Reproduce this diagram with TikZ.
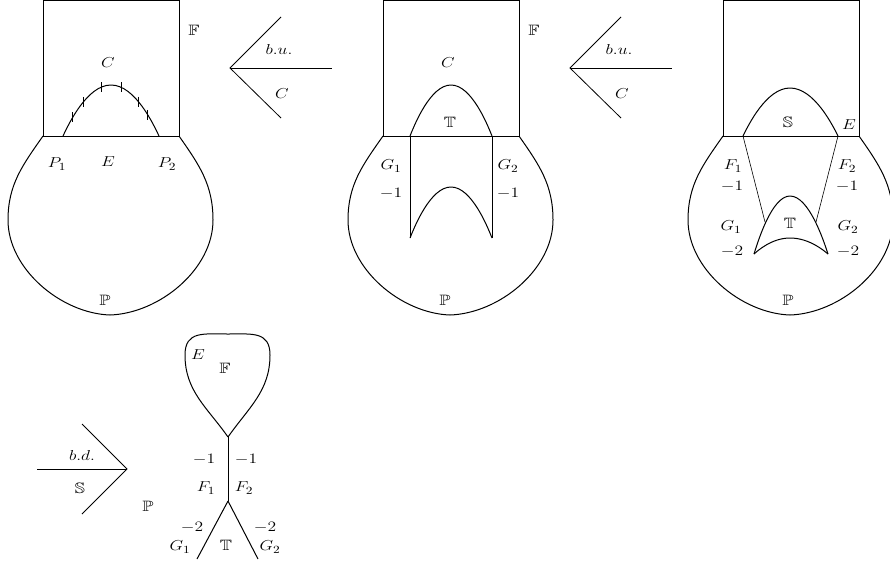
\documentclass[tikz,border=0pt]{standalone}
\usepackage{amssymb}
\usepackage{graphicx}
\newcommand{\mlab}[1]{\scalebox{1.22}[1]{$#1$}}
\tikzset{
  sq/.style={line width=0.6pt},
  crv/.style={line width=1pt},
  arr/.style={line width=0.8pt},
  lb/.style={inner sep=0pt, font=\fontsize{15}{18}\selectfont},
  lobe/.pic={
    \draw[crv] (0,136) to[out=-125,in=90] (-35,220)
      to[out=-90,in=178,looseness=0.9] (67,315)
      to[out=2,in=-90,looseness=0.9] (170,220) to[out=90,in=-55] (136,136);
    \draw[sq] (0,0.5) rectangle (136,136);
  }
}
\begin{document}
\begin{tikzpicture}[x=1pt,y=-1pt]
\useasboundingbox (0,0) rectangle (890,563);

% ---------- panel 1
\pic at (43,0) {lobe};
\draw[crv] (63,136) parabola bend (111,85) (159,136);
\foreach \t in {72.7,83.3,101,121,138.3,147.7}{
  \pgfmathsetmacro\yy{85+51*((\t-111)/48)^2}
  \draw[sq] (\t,\yy-5) -- (\t,\yy+5);
}
\node[lb] (aF) at (194,30) {\mlab{\mathbb{F}}};
\node[lb] (aC) at (108,63) {\mlab{C}};
\node[lb] (aP1) at (57,164) {\mlab{P_1}};
\node[lb] (aE) at (108,162) {\mlab{E}};
\node[lb] (aP2) at (167,164) {\mlab{P_2}};
\node[lb] (aP) at (105,300) {\mlab{\mathbb{P}}};

% ---------- arrow 1
\coordinate (v1) at (230,68);
\coordinate (u1) at (281,17);
\coordinate (d1) at (281,118);
\coordinate (h1) at (332,68);
\draw[arr] (u1) -- (v1) -- (d1);
\draw[arr] (v1) -- (h1);
\node[lb] (bu1) at (279,49) {\mlab{b.u.}};
\node[lb] (c1) at (282,94) {\mlab{C}};

% ---------- panel 2
\pic at (383,0) {lobe};
\draw[crv] (410,136) parabola bend (451,85) (492,136);
\draw[sq] (410,136) -- (410,238);
\draw[sq] (492,136) -- (492,238);
\draw[crv] (410,238) parabola bend (451,187) (492,238);
\node[lb] (bF) at (534,30) {\mlab{\mathbb{F}}};
\node[lb] (bC) at (448,63) {\mlab{C}};
\node[lb] (bT) at (450,122) {\mlab{\mathbb{T}}};
\node[lb] (bG1) at (391,166) {\mlab{G_1}};
\node[lb] (bG2) at (508,166) {\mlab{G_2}};
\node[lb] (bm1) at (391,193) {\mlab{-1}};
\node[lb] (bm2) at (508,193) {\mlab{-1}};
\node[lb] (bP) at (445,300) {\mlab{\mathbb{P}}};

% ---------- arrow 2
\coordinate (v2) at (570,68);
\coordinate (u2) at (621,17);
\coordinate (d2) at (621,118);
\coordinate (h2) at (672,68);
\draw[arr] (u2) -- (v2) -- (d2);
\draw[arr] (v2) -- (h2);
\node[lb] (bu2) at (619,49) {\mlab{b.u.}};
\node[lb] (c2) at (622,94) {\mlab{C}};

% ---------- panel 3
\pic at (723,0) {lobe};
\draw[crv] (743,136) parabola bend (790,88) (838,136);
\coordinate (t1) at (765,222);
\coordinate (t2) at (816,222);
\draw[sq] (743,136) -- (t1);
\draw[sq] (838,136) -- (t2);
\draw[crv] (754,254) parabola bend (790,196) (828,254);
\draw[crv] (754,254) parabola bend (790,238) (828,254);
\node[lb] (cS) at (788,122) {\mlab{\mathbb{S}}};
\node[lb] (cE) at (849,125) {\mlab{E}};
\node[lb] (cF1) at (733,166) {\mlab{F_1}};
\node[lb] (cF2) at (847,166) {\mlab{F_2}};
\node[lb] (cm1) at (732,186) {\mlab{-1}};
\node[lb] (cm2) at (847,186) {\mlab{-1}};
\node[lb] (cG1) at (731,227) {\mlab{G_1}};
\node[lb] (cG2) at (848,227) {\mlab{G_2}};
\node[lb] (cT) at (790,223) {\mlab{\mathbb{T}}};
\node[lb] (cn1) at (732,251) {\mlab{-2}};
\node[lb] (cn2) at (848,251) {\mlab{-2}};
\node[lb] (cP) at (788,300) {\mlab{\mathbb{P}}};

% ---------- arrow 3
\coordinate (v3) at (127,469);
\coordinate (u3) at (82,424);
\coordinate (d3) at (82,514);
\coordinate (h3) at (37,469);
\draw[arr] (u3) -- (v3) -- (d3);
\draw[arr] (h3) -- (v3);
\node[lb] (bd3) at (82,455) {\mlab{b.d.}};
\node[lb] (s3) at (80,488) {\mlab{\mathbb{S}}};
\node[lb] (p3) at (148,506) {\mlab{\mathbb{P}}};

% ---------- bottom configuration
\coordinate (lp) at (228,437);
\coordinate (mid) at (228,501);
\coordinate (g1e) at (197,559);
\coordinate (g2e) at (258,559);
\draw[crv] (lp) to[out=125,in=-90] (185,355)
  to[out=90,in=180,looseness=1.3] (228,334)
  to[out=0,in=90,looseness=1.3] (270,355) to[out=-90,in=55] (lp);
\draw[crv] (lp) -- (mid);
\draw[crv] (mid) -- (g1e);
\draw[crv] (mid) -- (g2e);
\node[lb] (dE) at (198,355) {\mlab{E}};
\node[lb] (dF) at (225,368) {\mlab{\mathbb{F}}};
\node[lb] (dm1) at (204,459) {\mlab{-1}};
\node[lb] (dm2) at (246,459) {\mlab{-1}};
\node[lb] (dF1) at (206,488) {\mlab{F_1}};
\node[lb] (dF2) at (244,488) {\mlab{F_2}};
\node[lb] (dn1) at (192,527) {\mlab{-2}};
\node[lb] (dn2) at (265,527) {\mlab{-2}};
\node[lb] (dG1) at (180,547) {\mlab{G_1}};
\node[lb] (dT) at (226,545) {\mlab{\mathbb{T}}};
\node[lb] (dG2) at (270,547) {\mlab{G_2}};
\end{tikzpicture}
\end{document}
